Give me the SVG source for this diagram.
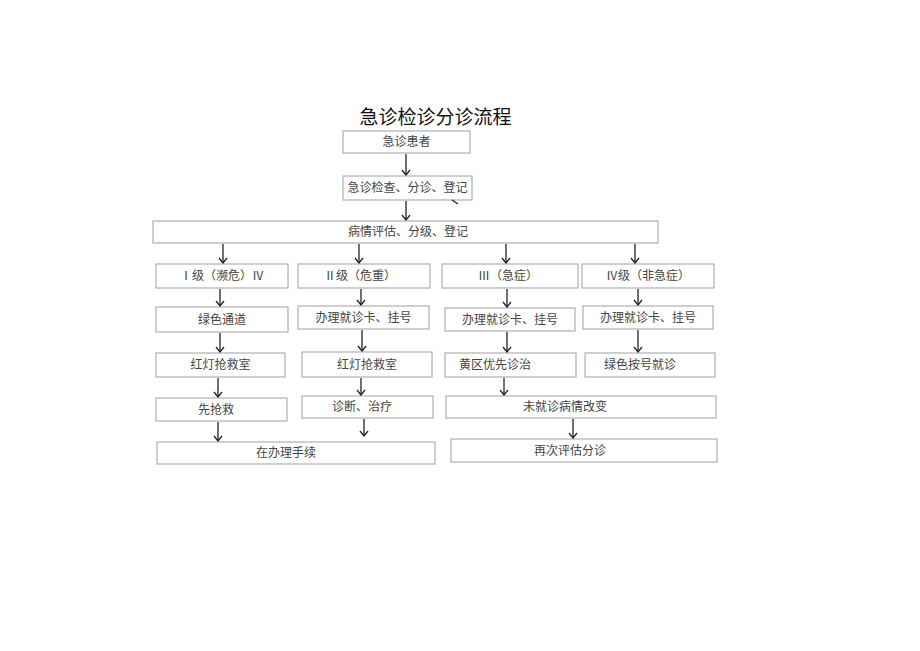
<svg xmlns="http://www.w3.org/2000/svg" width="920" height="651" viewBox="0 0 920 651">
<style>
.box{fill:#fff;stroke:#a8a8a8;stroke-width:1.1}
.t{font-family:"Liberation Serif","Noto Sans CJK SC",serif;font-size:12px;fill:#444;text-anchor:middle;dominant-baseline:central}
.title{font-family:"Liberation Serif","Noto Sans CJK SC",serif;font-size:19px;fill:#111;text-anchor:middle}
.c{stroke:#222;stroke-width:1.3;fill:none}
</style>
<defs>
<marker id="ah" viewBox="0 0 10 10" refX="9" refY="5" markerWidth="10" markerHeight="10" markerUnits="userSpaceOnUse" orient="auto">
<path d="M4,1 L9,5 L4,9" fill="none" stroke="#222" stroke-width="1.3"/>
</marker>
</defs>
<rect width="920" height="651" fill="#fff"/>
<text class="title" x="435.5" y="124">急诊检诊分诊流程</text>

<g id="n1"><rect class="box" x="343" y="131" width="127" height="22"/><text class="t" x="406.5" y="142">急诊患者</text></g>
<g id="n2"><rect class="box" x="343" y="176" width="129" height="24"/><text class="t" x="407.5" y="188">急诊检查、分诊、登记</text></g>
<g id="n3"><rect class="box" x="153" y="221" width="505" height="22"/><text class="t" x="408" y="232">病情评估、分级、登记</text></g>

<g id="a1"><rect class="box" x="156" y="264" width="132" height="24"/><text class="t" x="222" y="276">Ⅰ级（濒危）Ⅳ</text></g>
<g id="b1"><rect class="box" x="298" y="264" width="132" height="24"/><text class="t" x="360" y="276">Ⅱ级（危重）</text></g>
<g id="c1"><rect class="box" x="442" y="264" width="136" height="24"/><text class="t" x="508" y="276">Ⅲ（急症）</text></g>
<g id="d1"><rect class="box" x="582" y="264" width="132" height="24"/><text class="t" x="648" y="276">Ⅳ级（非急症）</text></g>

<g id="a2"><rect class="box" x="156" y="307" width="132" height="25"/><text class="t" x="222" y="319.5">绿色通道</text></g>
<g id="b2"><rect class="box" x="298" y="306" width="131" height="23"/><text class="t" x="363.5" y="317.5">办理就诊卡、挂号</text></g>
<g id="c2"><rect class="box" x="445" y="308" width="130" height="23"/><text class="t" x="510" y="319.5">办理就诊卡、挂号</text></g>
<g id="d2"><rect class="box" x="583" y="306" width="130" height="23"/><text class="t" x="648" y="317.5">办理就诊卡、挂号</text></g>

<g id="a3"><rect class="box" x="156" y="353" width="129" height="24"/><text class="t" x="220.5" y="365">红灯抢救室</text></g>
<g id="b3"><rect class="box" x="302" y="352" width="130" height="25"/><text class="t" x="367" y="364.5">红灯抢救室</text></g>
<g id="c3"><rect class="box" x="445" y="353" width="131" height="24"/><text class="t" x="495" y="365">黄区优先诊治</text></g>
<g id="d3"><rect class="box" x="585" y="353" width="130" height="24"/><text class="t" x="640" y="365">绿色按号就诊</text></g>

<g id="a4"><rect class="box" x="156" y="398" width="131" height="23"/><text class="t" x="216" y="409.5">先抢救</text></g>
<g id="b4"><rect class="box" x="302" y="396" width="131" height="22"/><text class="t" x="362" y="407">诊断、治疗</text></g>
<g id="c4"><rect class="box" x="446" y="396" width="270" height="22"/><text class="t" x="565" y="407">未就诊病情改变</text></g>

<g id="a5"><rect class="box" x="157" y="442" width="278" height="22"/><text class="t" x="286" y="453">在办理手续</text></g>
<g id="c5"><rect class="box" x="451" y="439" width="266" height="23"/><text class="t" x="570" y="450.5">再次评估分诊</text></g>

<g id="connectors">
<line class="c" x1="406" y1="154" x2="406" y2="175" marker-end="url(#ah)"/>
<line class="c" x1="406" y1="201" x2="406" y2="220" marker-end="url(#ah)"/>
<line class="c" x1="452" y1="200" x2="458" y2="204"/>
<line class="c" x1="223" y1="244" x2="223" y2="263" marker-end="url(#ah)"/>
<line class="c" x1="359" y1="244" x2="359" y2="263" marker-end="url(#ah)"/>
<line class="c" x1="506" y1="244" x2="506" y2="263" marker-end="url(#ah)"/>
<line class="c" x1="635" y1="244" x2="635" y2="263" marker-end="url(#ah)"/>

<line class="c" x1="220" y1="289" x2="220" y2="306" marker-end="url(#ah)"/>
<line class="c" x1="361" y1="289" x2="361" y2="305" marker-end="url(#ah)"/>
<line class="c" x1="507" y1="289" x2="507" y2="307" marker-end="url(#ah)"/>
<line class="c" x1="638" y1="289" x2="638" y2="305" marker-end="url(#ah)"/>

<line class="c" x1="220" y1="333" x2="220" y2="352" marker-end="url(#ah)"/>
<line class="c" x1="362" y1="330" x2="362" y2="351" marker-end="url(#ah)"/>
<line class="c" x1="507" y1="332" x2="507" y2="352" marker-end="url(#ah)"/>
<line class="c" x1="638" y1="330" x2="638" y2="352" marker-end="url(#ah)"/>

<line class="c" x1="218" y1="378" x2="218" y2="397" marker-end="url(#ah)"/>
<line class="c" x1="361" y1="378" x2="361" y2="395" marker-end="url(#ah)"/>
<line class="c" x1="504" y1="378" x2="504" y2="395" marker-end="url(#ah)"/>

<line class="c" x1="218" y1="422" x2="218" y2="441" marker-end="url(#ah)"/>
<line class="c" x1="364" y1="419" x2="364" y2="436" marker-end="url(#ah)"/>
<line class="c" x1="573" y1="419" x2="573" y2="438" marker-end="url(#ah)"/>
</g>
</svg>
